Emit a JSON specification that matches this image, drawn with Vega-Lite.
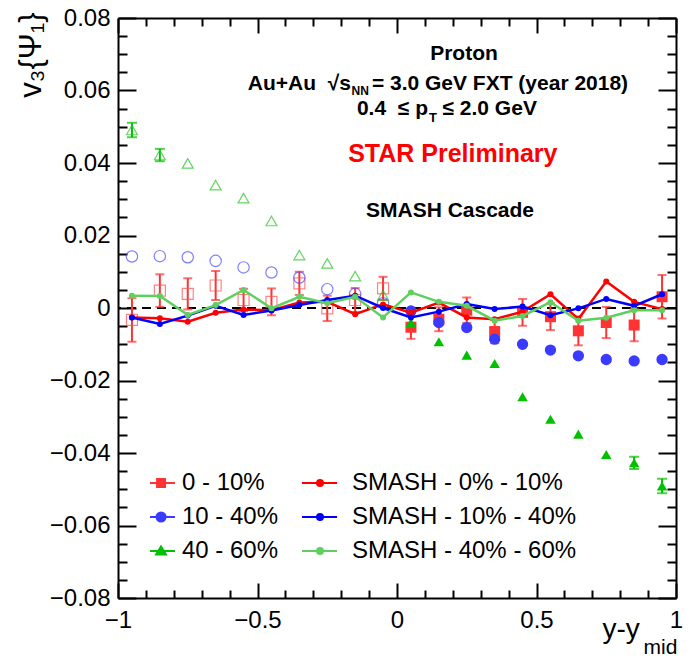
{
 "$schema": "https://vega.github.io/schema/vega-lite/v6.json",
 "width": 558, "height": 580,
 "autosize": {"type": "none"},
 "padding": {"left": 118, "top": 18, "right": 16, "bottom": 59},
 "background": "white",
 "config": {"view": {"stroke": null}, "font": "Liberation Sans", "axis": {"grid": false}},
 "datasets": {"all": [
  {"series":"0 - 10%","x":-0.95,"v":-0.0033,"lo":-0.0093,"hi":0.0027},
  {"series":"0 - 10%","x":-0.85,"v":0.0048,"lo":0.0003,"hi":0.0093},
  {"series":"0 - 10%","x":-0.75,"v":0.0039,"lo":-0.0004,"hi":0.0082},
  {"series":"0 - 10%","x":-0.65,"v":0.0062,"lo":0.0022,"hi":0.0102},
  {"series":"0 - 10%","x":-0.55,"v":0.0022,"lo":-0.0009,"hi":0.0053},
  {"series":"0 - 10%","x":-0.45,"v":0.0017,"lo":-0.002,"hi":0.0054},
  {"series":"0 - 10%","x":-0.35,"v":0.0068,"lo":0.0036,"hi":0.01},
  {"series":"0 - 10%","x":-0.25,"v":-0.0001,"lo":-0.0036,"hi":0.0034},
  {"series":"0 - 10%","x":-0.15,"v":0.0022,"lo":-0.0011,"hi":0.0055},
  {"series":"0 - 10%","x":-0.05,"v":0.0054,"lo":0.0022,"hi":0.0086},
  {"series":"0 - 10%","x":0.05,"v":-0.0053,"lo":-0.0085,"hi":-0.0021},
  {"series":"0 - 10%","x":0.15,"v":-0.0031,"lo":-0.0064,"hi":0.0002},
  {"series":"0 - 10%","x":0.25,"v":-0.0006,"lo":-0.0041,"hi":0.0029},
  {"series":"0 - 10%","x":0.35,"v":-0.0065,"lo":-0.0097,"hi":-0.0033},
  {"series":"0 - 10%","x":0.45,"v":-0.0012,"lo":-0.0049,"hi":0.0025},
  {"series":"0 - 10%","x":0.55,"v":-0.0024,"lo":-0.0061,"hi":0.0013},
  {"series":"0 - 10%","x":0.65,"v":-0.0063,"lo":-0.0103,"hi":-0.0023},
  {"series":"0 - 10%","x":0.75,"v":-0.004,"lo":-0.0083,"hi":0.0003},
  {"series":"0 - 10%","x":0.85,"v":-0.0047,"lo":-0.0092,"hi":-0.0002},
  {"series":"0 - 10%","x":0.95,"v":0.0031,"lo":-0.0029,"hi":0.0091},
  {"series":"10 - 40%","x":-0.95,"v":0.0142},
  {"series":"10 - 40%","x":-0.85,"v":0.0143},
  {"series":"10 - 40%","x":-0.75,"v":0.014},
  {"series":"10 - 40%","x":-0.65,"v":0.013},
  {"series":"10 - 40%","x":-0.55,"v":0.0112},
  {"series":"10 - 40%","x":-0.45,"v":0.0098},
  {"series":"10 - 40%","x":-0.35,"v":0.0084},
  {"series":"10 - 40%","x":-0.25,"v":0.0052},
  {"series":"10 - 40%","x":-0.15,"v":0.0039},
  {"series":"10 - 40%","x":-0.05,"v":0.0013},
  {"series":"10 - 40%","x":0.05,"v":-0.0008},
  {"series":"10 - 40%","x":0.15,"v":-0.004},
  {"series":"10 - 40%","x":0.25,"v":-0.0054},
  {"series":"10 - 40%","x":0.35,"v":-0.0086},
  {"series":"10 - 40%","x":0.45,"v":-0.01},
  {"series":"10 - 40%","x":0.55,"v":-0.0116},
  {"series":"10 - 40%","x":0.65,"v":-0.0132},
  {"series":"10 - 40%","x":0.75,"v":-0.0142},
  {"series":"10 - 40%","x":0.85,"v":-0.0146},
  {"series":"10 - 40%","x":0.95,"v":-0.0142},
  {"series":"40 - 60%","x":-0.95,"v":0.0491,"lo":0.0471,"hi":0.0511},
  {"series":"40 - 60%","x":-0.85,"v":0.0422,"lo":0.0405,"hi":0.0439},
  {"series":"40 - 60%","x":-0.75,"v":0.0399},
  {"series":"40 - 60%","x":-0.65,"v":0.0339},
  {"series":"40 - 60%","x":-0.55,"v":0.0303},
  {"series":"40 - 60%","x":-0.45,"v":0.024},
  {"series":"40 - 60%","x":-0.35,"v":0.0146},
  {"series":"40 - 60%","x":-0.25,"v":0.0123},
  {"series":"40 - 60%","x":-0.15,"v":0.0088},
  {"series":"40 - 60%","x":-0.05,"v":0.0035},
  {"series":"40 - 60%","x":0.05,"v":-0.004},
  {"series":"40 - 60%","x":0.15,"v":-0.0093},
  {"series":"40 - 60%","x":0.25,"v":-0.013},
  {"series":"40 - 60%","x":0.35,"v":-0.0153},
  {"series":"40 - 60%","x":0.45,"v":-0.0245},
  {"series":"40 - 60%","x":0.55,"v":-0.0307},
  {"series":"40 - 60%","x":0.65,"v":-0.0348},
  {"series":"40 - 60%","x":0.75,"v":-0.0404},
  {"series":"40 - 60%","x":0.85,"v":-0.0427,"lo":-0.0444,"hi":-0.041},
  {"series":"40 - 60%","x":0.95,"v":-0.0491,"lo":-0.0511,"hi":-0.0471},
  {"series":"SMASH - 0% - 10%","x":-0.95,"v":-0.0026},
  {"series":"SMASH - 0% - 10%","x":-0.85,"v":-0.0028},
  {"series":"SMASH - 0% - 10%","x":-0.75,"v":-0.0038},
  {"series":"SMASH - 0% - 10%","x":-0.65,"v":-0.0013},
  {"series":"SMASH - 0% - 10%","x":-0.55,"v":-0.0004},
  {"series":"SMASH - 0% - 10%","x":-0.45,"v":-0.0006},
  {"series":"SMASH - 0% - 10%","x":-0.35,"v":0.0015},
  {"series":"SMASH - 0% - 10%","x":-0.25,"v":0.0017},
  {"series":"SMASH - 0% - 10%","x":-0.15,"v":-0.0017},
  {"series":"SMASH - 0% - 10%","x":-0.05,"v":0.001},
  {"series":"SMASH - 0% - 10%","x":0.05,"v":-0.0013},
  {"series":"SMASH - 0% - 10%","x":0.15,"v":0.0015},
  {"series":"SMASH - 0% - 10%","x":0.25,"v":-0.0026},
  {"series":"SMASH - 0% - 10%","x":0.35,"v":-0.0031},
  {"series":"SMASH - 0% - 10%","x":0.45,"v":-0.001},
  {"series":"SMASH - 0% - 10%","x":0.55,"v":0.0038},
  {"series":"SMASH - 0% - 10%","x":0.65,"v":-0.003},
  {"series":"SMASH - 0% - 10%","x":0.75,"v":0.0073},
  {"series":"SMASH - 0% - 10%","x":0.85,"v":0.0017},
  {"series":"SMASH - 0% - 10%","x":0.95,"v":-0.0003},
  {"series":"SMASH - 10% - 40%","x":-0.95,"v":-0.0026},
  {"series":"SMASH - 10% - 40%","x":-0.85,"v":-0.0044},
  {"series":"SMASH - 10% - 40%","x":-0.75,"v":-0.0021},
  {"series":"SMASH - 10% - 40%","x":-0.65,"v":0.0006},
  {"series":"SMASH - 10% - 40%","x":-0.55,"v":-0.0019},
  {"series":"SMASH - 10% - 40%","x":-0.45,"v":-0.0007},
  {"series":"SMASH - 10% - 40%","x":-0.35,"v":0.0008},
  {"series":"SMASH - 10% - 40%","x":-0.25,"v":0.0022},
  {"series":"SMASH - 10% - 40%","x":-0.15,"v":0.0034},
  {"series":"SMASH - 10% - 40%","x":-0.05,"v":0.0},
  {"series":"SMASH - 10% - 40%","x":0.05,"v":-0.0026},
  {"series":"SMASH - 10% - 40%","x":0.15,"v":-0.001},
  {"series":"SMASH - 10% - 40%","x":0.25,"v":0.0011},
  {"series":"SMASH - 10% - 40%","x":0.35,"v":-0.0003},
  {"series":"SMASH - 10% - 40%","x":0.45,"v":0.0004},
  {"series":"SMASH - 10% - 40%","x":0.55,"v":-0.002},
  {"series":"SMASH - 10% - 40%","x":0.65,"v":-0.0001},
  {"series":"SMASH - 10% - 40%","x":0.75,"v":0.0025},
  {"series":"SMASH - 10% - 40%","x":0.85,"v":0.0006},
  {"series":"SMASH - 10% - 40%","x":0.95,"v":0.0038},
  {"series":"SMASH - 40% - 60%","x":-0.95,"v":0.0034},
  {"series":"SMASH - 40% - 60%","x":-0.85,"v":0.0033},
  {"series":"SMASH - 40% - 60%","x":-0.75,"v":-0.0019},
  {"series":"SMASH - 40% - 60%","x":-0.65,"v":0.0008},
  {"series":"SMASH - 40% - 60%","x":-0.55,"v":0.005},
  {"series":"SMASH - 40% - 60%","x":-0.45,"v":-0.0001},
  {"series":"SMASH - 40% - 60%","x":-0.35,"v":0.0031},
  {"series":"SMASH - 40% - 60%","x":-0.25,"v":0.0013},
  {"series":"SMASH - 40% - 60%","x":-0.15,"v":0.0031},
  {"series":"SMASH - 40% - 60%","x":-0.05,"v":-0.0026},
  {"series":"SMASH - 40% - 60%","x":0.05,"v":0.0043},
  {"series":"SMASH - 40% - 60%","x":0.15,"v":0.0017},
  {"series":"SMASH - 40% - 60%","x":0.25,"v":0.0006},
  {"series":"SMASH - 40% - 60%","x":0.35,"v":-0.0035},
  {"series":"SMASH - 40% - 60%","x":0.45,"v":-0.0022},
  {"series":"SMASH - 40% - 60%","x":0.55,"v":0.0016},
  {"series":"SMASH - 40% - 60%","x":0.65,"v":-0.0035},
  {"series":"SMASH - 40% - 60%","x":0.75,"v":-0.0027},
  {"series":"SMASH - 40% - 60%","x":0.85,"v":-0.0006},
  {"series":"SMASH - 40% - 60%","x":0.95,"v":-0.0006}
 ]},
 "data": {"name": "all"},
 "layer": [
  {"data": {"values": [{}]},
   "mark": {"type": "rule", "strokeDash": [9, 6], "strokeWidth": 2, "color": "black"},
   "encoding": {"y": {"datum": 0, "type": "quantitative", "scale": {"domain": [-0.08, 0.08], "nice": false, "zero": false}, "axis": null}}},
  {"mark": {"type": "point", "opacity": 0, "filled": true},
   "encoding": {
    "x": {"field": "x", "type": "quantitative", "scale": {"domain": [-1, 1], "nice": false, "zero": false}, "axis": null},
    "y": {"field": "v", "type": "quantitative", "scale": {"domain": [-0.08, 0.08], "nice": false, "zero": false}, "axis": null},
    "color": {"field": "series", "type": "nominal",
     "scale": {"domain": ["0 - 10%", "10 - 40%", "40 - 60%", "SMASH - 0% - 10%", "SMASH - 10% - 40%", "SMASH - 40% - 60%"],
               "range": ["#ff3333", "#3b3bff", "#00c000", "#ff0000", "#0000ff", "#5fcf5f"]},
     "legend": {"orient": "none", "legendX": 34, "legendY": 452, "columns": 2, "columnPadding": 19, "rowPadding": 9, "title": null,
      "labelFont": "Liberation Sans", "labelFontSize": 24, "labelColor": "black", "labelOffset": 4, "labelLimit": 400,
      "symbolSize": 576, "symbolStrokeWidth": 2,
      "encode": {"symbols": {"update": {"fill": {"scale": "color", "field": "value"}, "stroke": {"scale": "color", "field": "value"}, "strokeWidth": {"value": 2}, "opacity": {"value": 1}, "size": {"value": 576}}}}}},
    "shape": {"field": "series", "type": "nominal",
     "scale": {"domain": ["0 - 10%", "10 - 40%", "40 - 60%", "SMASH - 0% - 10%", "SMASH - 10% - 40%", "SMASH - 40% - 60%"],
               "range": ["M-1.25,0H0.83M-0.66,-0.33H0V0.33H-0.66Z",
                         "M-1.25,0H0.83M-0.71,0A0.38,0.38,0,1,0,0.05,0A0.38,0.38,0,1,0,-0.71,0Z",
                         "M-1.25,0H0.83M-0.33,-0.38L0.08,0.3H-0.74Z",
                         "M-2.75,0H0.17M-1.5,0A0.25,0.25,0,1,0,-1,0A0.25,0.25,0,1,0,-1.5,0Z",
                         "M-2.75,0H0.17M-1.5,0A0.25,0.25,0,1,0,-1,0A0.25,0.25,0,1,0,-1.5,0Z",
                         "M-2.75,0H0.17M-1.5,0A0.25,0.25,0,1,0,-1,0A0.25,0.25,0,1,0,-1.5,0Z"]},
     "legend": {"orient": "none", "legendX": 34, "legendY": 452, "columns": 2, "columnPadding": 19, "rowPadding": 9, "title": null,
      "labelFont": "Liberation Sans", "labelFontSize": 24, "labelColor": "black", "labelOffset": 4, "labelLimit": 400,
      "symbolSize": 576, "symbolStrokeWidth": 2,
      "encode": {"symbols": {"update": {"fill": {"scale": "color", "field": "value"}, "stroke": {"scale": "color", "field": "value"}, "strokeWidth": {"value": 2}, "opacity": {"value": 1}, "size": {"value": 576}}}}}}
   }},
  {"transform": [{"filter": "datum.series == '0 - 10%'"}],
   "mark": {"type": "rule", "color": "#ff3333", "strokeWidth": 2},
   "encoding": {
    "x": {"field": "x", "type": "quantitative", "scale": {"domain": [-1, 1], "nice": false, "zero": false}, "axis": null},
    "y": {"field": "lo", "type": "quantitative", "scale": {"domain": [-0.08, 0.08], "nice": false, "zero": false}, "axis": null},
    "y2": {"field": "hi"}}},
  {"transform": [{"filter": "datum.series == '0 - 10%'"}],
   "mark": {"type": "tick", "orient": "horizontal", "color": "#ff3333", "size": 9, "thickness": 2},
   "encoding": {
    "x": {"field": "x", "type": "quantitative", "scale": {"domain": [-1, 1], "nice": false, "zero": false}, "axis": null},
    "y": {"field": "lo", "type": "quantitative", "scale": {"domain": [-0.08, 0.08], "nice": false, "zero": false}, "axis": null}}},
  {"transform": [{"filter": "datum.series == '0 - 10%'"}],
   "mark": {"type": "tick", "orient": "horizontal", "color": "#ff3333", "size": 9, "thickness": 2},
   "encoding": {
    "x": {"field": "x", "type": "quantitative", "scale": {"domain": [-1, 1], "nice": false, "zero": false}, "axis": null},
    "y": {"field": "hi", "type": "quantitative", "scale": {"domain": [-0.08, 0.08], "nice": false, "zero": false}, "axis": null}}},
  {"transform": [{"filter": "datum.series == '40 - 60%' && isValid(datum.lo)"}],
   "mark": {"type": "rule", "color": "#00c000", "strokeWidth": 2},
   "encoding": {
    "x": {"field": "x", "type": "quantitative", "scale": {"domain": [-1, 1], "nice": false, "zero": false}, "axis": null},
    "y": {"field": "lo", "type": "quantitative", "scale": {"domain": [-0.08, 0.08], "nice": false, "zero": false}, "axis": null},
    "y2": {"field": "hi"}}},
  {"transform": [{"filter": "datum.series == '40 - 60%' && isValid(datum.lo)"}],
   "mark": {"type": "tick", "orient": "horizontal", "color": "#00c000", "size": 10, "thickness": 2},
   "encoding": {
    "x": {"field": "x", "type": "quantitative", "scale": {"domain": [-1, 1], "nice": false, "zero": false}, "axis": null},
    "y": {"field": "lo", "type": "quantitative", "scale": {"domain": [-0.08, 0.08], "nice": false, "zero": false}, "axis": null}}},
  {"transform": [{"filter": "datum.series == '40 - 60%' && isValid(datum.lo)"}],
   "mark": {"type": "tick", "orient": "horizontal", "color": "#00c000", "size": 10, "thickness": 2},
   "encoding": {
    "x": {"field": "x", "type": "quantitative", "scale": {"domain": [-1, 1], "nice": false, "zero": false}, "axis": null},
    "y": {"field": "hi", "type": "quantitative", "scale": {"domain": [-0.08, 0.08], "nice": false, "zero": false}, "axis": null}}},
  {"transform": [{"filter": "datum.series == '0 - 10%' && datum.x < 0"}],
   "mark": {"type": "point", "shape": "square", "filled": false, "size": 121, "strokeWidth": 1.2, "color": "#ff5050"},
   "encoding": {
    "x": {"field": "x", "type": "quantitative", "scale": {"domain": [-1, 1], "nice": false, "zero": false},
     "axis": {"orient": "top", "values": [-1,-0.9,-0.8,-0.7,-0.6,-0.5,-0.4,-0.3,-0.2,-0.1,0,0.1,0.2,0.3,0.4,0.5,0.6,0.7,0.8,0.9,1],
      "labels": false, "title": null, "grid": false,
      "tickSize": {"condition": {"test": "abs(datum.value*2-round(datum.value*2))<0.001", "value": -15}, "value": -8},
      "tickWidth": 2, "tickColor": "black", "domainColor": "black", "domainWidth": 2}},
    "y": {"field": "v", "type": "quantitative", "scale": {"domain": [-0.08, 0.08], "nice": false, "zero": false},
     "axis": {"orient": "right", "values": [-0.08,-0.075,-0.07,-0.065,-0.06,-0.055,-0.05,-0.045,-0.04,-0.035,-0.03,-0.025,-0.02,-0.015,-0.01,-0.005,0,0.005,0.01,0.015,0.02,0.025,0.03,0.035,0.04,0.045,0.05,0.055,0.06,0.065,0.07,0.075,0.08],
      "labels": false, "title": null, "grid": false,
      "tickSize": {"condition": {"test": "abs(datum.value*50-round(datum.value*50))<0.001", "value": -18}, "value": -9},
      "tickWidth": 2, "tickColor": "black", "domainColor": "black", "domainWidth": 2}}}},
  {"transform": [{"filter": "datum.series == '0 - 10%' && datum.x > 0"}],
   "mark": {"type": "point", "shape": "square", "filled": true, "size": 121, "opacity": 1, "color": "#ff3333"},
   "encoding": {
    "x": {"field": "x", "type": "quantitative", "scale": {"domain": [-1, 1], "nice": false, "zero": false},
     "axis": {"orient": "bottom", "values": [-1,-0.9,-0.8,-0.7,-0.6,-0.5,-0.4,-0.3,-0.2,-0.1,0,0.1,0.2,0.3,0.4,0.5,0.6,0.7,0.8,0.9,1],
      "labelExpr": "abs(datum.value*2-round(datum.value*2))<0.001 ? format(datum.value,'~g') : ''",
      "tickSize": {"condition": {"test": "abs(datum.value*2-round(datum.value*2))<0.001", "value": -15}, "value": -8},
      "tickWidth": 2, "tickColor": "black", "domainColor": "black", "domainWidth": 2, "grid": false,
      "labelFont": "Liberation Sans", "labelFontSize": 24, "labelColor": "black", "labelPadding": 25,
      "labelFlush": false, "labelOverlap": false, "labelBound": false,
      "title": "y-y", "titleFont": "Liberation Sans", "titleFontSize": 28, "titleFontWeight": "normal", "titleColor": "black",
      "titleX": 484, "titleY": 39, "titleAlign": "left", "titleBaseline": "alphabetic"}},
    "y": {"field": "v", "type": "quantitative", "scale": {"domain": [-0.08, 0.08], "nice": false, "zero": false},
     "axis": {"orient": "left", "values": [-0.08,-0.075,-0.07,-0.065,-0.06,-0.055,-0.05,-0.045,-0.04,-0.035,-0.03,-0.025,-0.02,-0.015,-0.01,-0.005,0,0.005,0.01,0.015,0.02,0.025,0.03,0.035,0.04,0.045,0.05,0.055,0.06,0.065,0.07,0.075,0.08],
      "labelExpr": "abs(datum.value*50-round(datum.value*50))<0.001 ? (abs(datum.value)<0.000001 ? '0' : format(datum.value,'.2f')) : ''",
      "tickSize": {"condition": {"test": "abs(datum.value*50-round(datum.value*50))<0.001", "value": -18}, "value": -9},
      "tickWidth": 2, "tickColor": "black", "domainColor": "black", "domainWidth": 2, "grid": false,
      "labelFont": "Liberation Sans", "labelFontSize": 24, "labelColor": "black", "labelPadding": 26,
      "labelFlush": false, "labelOverlap": false, "labelBound": false,
      "title": "v₃{Ψ₁}", "titleFont": "Liberation Sans", "titleFontSize": 31, "titleFontWeight": "normal", "titleColor": "black",
      "titleX": -78, "titleY": -6, "titleAngle": -90, "titleAlign": "right", "titleBaseline": "alphabetic"}}}},
  {"transform": [{"filter": "datum.series == '10 - 40%' && datum.x < 0"}],
   "mark": {"type": "point", "shape": "circle", "filled": false, "size": 128, "strokeWidth": 1.2, "color": "#4a4aff"},
   "encoding": {
    "x": {"field": "x", "type": "quantitative", "scale": {"domain": [-1, 1], "nice": false, "zero": false}, "axis": null},
    "y": {"field": "v", "type": "quantitative", "scale": {"domain": [-0.08, 0.08], "nice": false, "zero": false}, "axis": null}}},
  {"transform": [{"filter": "datum.series == '10 - 40%' && datum.x > 0"}],
   "mark": {"type": "point", "shape": "circle", "filled": true, "size": 128, "opacity": 1, "color": "#3b3bff"},
   "encoding": {
    "x": {"field": "x", "type": "quantitative", "scale": {"domain": [-1, 1], "nice": false, "zero": false}, "axis": null},
    "y": {"field": "v", "type": "quantitative", "scale": {"domain": [-0.08, 0.08], "nice": false, "zero": false}, "axis": null}}},
  {"transform": [{"filter": "datum.series == '40 - 60%' && datum.x < 0"}],
   "mark": {"type": "point", "shape": "triangle-up", "filled": false, "size": 120, "strokeWidth": 1.2, "color": "#22c522"},
   "encoding": {
    "x": {"field": "x", "type": "quantitative", "scale": {"domain": [-1, 1], "nice": false, "zero": false}, "axis": null},
    "y": {"field": "v", "type": "quantitative", "scale": {"domain": [-0.08, 0.08], "nice": false, "zero": false}, "axis": null}}},
  {"transform": [{"filter": "datum.series == '40 - 60%' && datum.x > 0"}],
   "mark": {"type": "point", "shape": "triangle-up", "filled": true, "size": 110, "opacity": 1, "color": "#00c000"},
   "encoding": {
    "x": {"field": "x", "type": "quantitative", "scale": {"domain": [-1, 1], "nice": false, "zero": false}, "axis": null},
    "y": {"field": "v", "type": "quantitative", "scale": {"domain": [-0.08, 0.08], "nice": false, "zero": false}, "axis": null}}},
  {"transform": [{"filter": "datum.series == 'SMASH - 0% - 10%'"}],
   "mark": {"type": "line", "color": "#ff0000", "strokeWidth": 2.5, "point": {"filled": true, "size": 36, "color": "#ff0000", "opacity": 1}},
   "encoding": {
    "x": {"field": "x", "type": "quantitative", "scale": {"domain": [-1, 1], "nice": false, "zero": false}, "axis": null},
    "y": {"field": "v", "type": "quantitative", "scale": {"domain": [-0.08, 0.08], "nice": false, "zero": false}, "axis": null}}},
  {"transform": [{"filter": "datum.series == 'SMASH - 10% - 40%'"}],
   "mark": {"type": "line", "color": "#0000ff", "strokeWidth": 2.5, "point": {"filled": true, "size": 36, "color": "#0000ff", "opacity": 1}},
   "encoding": {
    "x": {"field": "x", "type": "quantitative", "scale": {"domain": [-1, 1], "nice": false, "zero": false}, "axis": null},
    "y": {"field": "v", "type": "quantitative", "scale": {"domain": [-0.08, 0.08], "nice": false, "zero": false}, "axis": null}}},
  {"transform": [{"filter": "datum.series == 'SMASH - 40% - 60%'"}],
   "mark": {"type": "line", "color": "#5fcf5f", "strokeWidth": 2.5, "point": {"filled": true, "size": 36, "color": "#5fcf5f", "opacity": 1}},
   "encoding": {
    "x": {"field": "x", "type": "quantitative", "scale": {"domain": [-1, 1], "nice": false, "zero": false}, "axis": null},
    "y": {"field": "v", "type": "quantitative", "scale": {"domain": [-0.08, 0.08], "nice": false, "zero": false}, "axis": null}}},
  {"data": {"values": [{}]},
   "mark": {"type": "text", "text": "Proton", "font": "Liberation Sans", "fontWeight": "bold", "fontSize": 21, "align": "center", "baseline": "alphabetic", "color": "black"},
   "encoding": {
    "x": {"datum": 0.24, "type": "quantitative", "scale": {"domain": [-1, 1], "nice": false, "zero": false},
     "axis": {"orient": "bottom", "ticks": false, "labels": false, "domain": false, "grid": false,
      "title": "mid", "titleFont": "Liberation Sans", "titleFontSize": 21, "titleFontWeight": "normal", "titleColor": "black",
      "titleX": 525, "titleY": 55, "titleAlign": "left", "titleBaseline": "alphabetic"}},
    "y": {"datum": 0.0684, "type": "quantitative", "scale": {"domain": [-0.08, 0.08], "nice": false, "zero": false}, "axis": null}}},
  {"data": {"values": [{}]},
   "mark": {"type": "text", "text": "Au+Au\u00a0\u00a0√s", "font": "Liberation Sans", "fontWeight": "bold", "fontSize": 21, "align": "right", "baseline": "alphabetic", "color": "black"},
   "encoding": {
    "x": {"datum": -0.165, "type": "quantitative", "scale": {"domain": [-1, 1], "nice": false, "zero": false}, "axis": null},
    "y": {"datum": 0.0601, "type": "quantitative", "scale": {"domain": [-0.08, 0.08], "nice": false, "zero": false}, "axis": null}}},
  {"data": {"values": [{}]},
   "mark": {"type": "text", "text": "NN", "font": "Liberation Sans", "fontWeight": "bold", "fontSize": 12, "align": "left", "baseline": "alphabetic", "color": "black"},
   "encoding": {
    "x": {"datum": -0.163, "type": "quantitative", "scale": {"domain": [-1, 1], "nice": false, "zero": false}, "axis": null},
    "y": {"datum": 0.0587, "type": "quantitative", "scale": {"domain": [-0.08, 0.08], "nice": false, "zero": false}, "axis": null}}},
  {"data": {"values": [{}]},
   "mark": {"type": "text", "text": "= 3.0 GeV FXT (year 2018)", "font": "Liberation Sans", "fontWeight": "bold", "fontSize": 21, "align": "left", "baseline": "alphabetic", "color": "black"},
   "encoding": {
    "x": {"datum": -0.09, "type": "quantitative", "scale": {"domain": [-1, 1], "nice": false, "zero": false}, "axis": null},
    "y": {"datum": 0.0601, "type": "quantitative", "scale": {"domain": [-0.08, 0.08], "nice": false, "zero": false}, "axis": null}}},
  {"data": {"values": [{}]},
   "mark": {"type": "text", "text": "0.4\u00a0\u00a0≤ p", "font": "Liberation Sans", "fontWeight": "bold", "fontSize": 21, "align": "right", "baseline": "alphabetic", "color": "black"},
   "encoding": {
    "x": {"datum": 0.111, "type": "quantitative", "scale": {"domain": [-1, 1], "nice": false, "zero": false}, "axis": null},
    "y": {"datum": 0.0532, "type": "quantitative", "scale": {"domain": [-0.08, 0.08], "nice": false, "zero": false}, "axis": null}}},
  {"data": {"values": [{}]},
   "mark": {"type": "text", "text": "T", "font": "Liberation Sans", "fontWeight": "bold", "fontSize": 13, "align": "left", "baseline": "alphabetic", "color": "black"},
   "encoding": {
    "x": {"datum": 0.115, "type": "quantitative", "scale": {"domain": [-1, 1], "nice": false, "zero": false}, "axis": null},
    "y": {"datum": 0.0513, "type": "quantitative", "scale": {"domain": [-0.08, 0.08], "nice": false, "zero": false}, "axis": null}}},
  {"data": {"values": [{}]},
   "mark": {"type": "text", "text": "≤ 2.0 GeV", "font": "Liberation Sans", "fontWeight": "bold", "fontSize": 21, "align": "left", "baseline": "alphabetic", "color": "black"},
   "encoding": {
    "x": {"datum": 0.163, "type": "quantitative", "scale": {"domain": [-1, 1], "nice": false, "zero": false}, "axis": null},
    "y": {"datum": 0.0532, "type": "quantitative", "scale": {"domain": [-0.08, 0.08], "nice": false, "zero": false}, "axis": null}}},
  {"data": {"values": [{}]},
   "mark": {"type": "text", "text": "STAR Preliminary", "font": "Liberation Sans", "fontWeight": "bold", "fontSize": 25, "align": "center", "baseline": "alphabetic", "color": "#ff0000"},
   "encoding": {
    "x": {"datum": 0.2, "type": "quantitative", "scale": {"domain": [-1, 1], "nice": false, "zero": false}, "axis": null},
    "y": {"datum": 0.0404, "type": "quantitative", "scale": {"domain": [-0.08, 0.08], "nice": false, "zero": false}, "axis": null}}},
  {"data": {"values": [{}]},
   "mark": {"type": "text", "text": "SMASH Cascade", "font": "Liberation Sans", "fontWeight": "bold", "fontSize": 21, "align": "center", "baseline": "alphabetic", "color": "black"},
   "encoding": {
    "x": {"datum": 0.19, "type": "quantitative", "scale": {"domain": [-1, 1], "nice": false, "zero": false}, "axis": null},
    "y": {"datum": 0.0252, "type": "quantitative", "scale": {"domain": [-0.08, 0.08], "nice": false, "zero": false}, "axis": null}}}
 ],
 "resolve": {"axis": {"x": "independent", "y": "independent"}}
}
